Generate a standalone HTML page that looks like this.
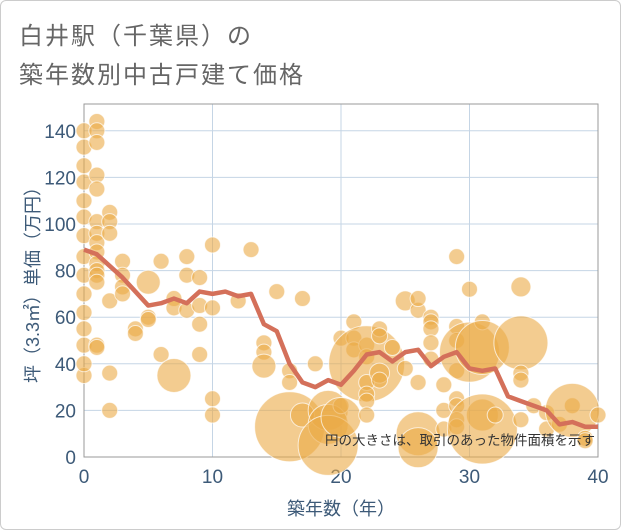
<!DOCTYPE html>
<html><head><meta charset="utf-8"><style>
body{margin:0;background:#fff;font-family:"Liberation Sans","Noto Sans CJK JP",sans-serif;}
#wrap{position:relative;width:619px;height:528px;border:1px solid #ccc;border-radius:6px;overflow:hidden;background:#fff}
.t{position:absolute;left:18px;font-size:24px;color:#666;letter-spacing:2px}
</style></head><body>
<div id="wrap">
<div class="t" style="top:15px">白井駅（千葉県）の</div>
<div class="t" style="top:54px">築年数別中古戸建て価格</div>
<svg id="svg" width="621" height="530" style="position:absolute;left:0;top:0"></svg>
</div>
<script>
const years=[0,1,2,3,4,5,6,7,8,9,10,11,12,13,14,15,16,17,18,19,20,21,22,23,24,25,26,27,28,29,30,31,32,33,34,35,36,37,38,39,40];
const avgPrice=[89,87,82,77,71,65,66,68,66,71,70,71,69,70,57,54,40,32,30,33,31,37,44,45,41,45,46,39,43,45,38,37,38,26,24,22,20,14,15,13,13];
const bubbleX=[0,0,0,0,0,0,0,0,0,0,0,0,0,0,0,1,1,1,1,1,1,1,1,1,1,1,1,1,1,1,2,2,2,2,2,2,3,3,3,3,4,4,5,5,5,6,6,7,7,7,8,8,8,9,9,9,9,10,10,10,10,12,13,14,14,14,15,16,16,16,17,17,18,19,19,19,20,20,20,21,21,21,22,22,22,22,22,22,22,23,23,23,23,24,25,25,26,26,26,26,26,27,27,27,27,27,28,28,28,29,29,29,29,29,29,29,29,30,30,31,31,31,31,32,34,34,34,34,34,35,36,36,37,38,38,39,39,40];
const bubbleY=[35,40,48,55,62,70,78,86,95,103,110,118,125,133,140,144,140,135,121,115,101,96,92,88,83,80,78,75,48,47,105,101,96,67,36,20,84,78,73,70,55,53,75,60,59,84,44,35,68,64,86,78,63,77,65,57,44,91,64,25,18,67,89,49,45,39,71,37,32,13,68,18,40,20,14,5,51,22,17,58,51,46,48,43,40,32,27,24,18,55,52,36,33,47,67,38,63,68,32,10,4,60,58,55,49,42,31,20,12,86,56,50,37,25,22,16,13,72,45,58,47,18,12,18,73,49,36,33,16,22,19,12,14,22,20,8,7,18];
const bubbleArea=[8,8,8,8,8,8,8,8,8,8,8,8,8,8,8,8,8,8,8,8,8,8,8,8,8,8,8,8,8,8,8,8,8,8,8,8,8,8,8,8,8,8,12,8,8,8,8,17,8,8,8,8,8,8,8,8,8,8,8,8,8,8,8,8,8,12,8,8,8,35,8,12,8,20,20,30,8,8,20,8,8,8,8,8,38,8,8,8,8,8,8,10,8,8,10,8,8,8,8,22,20,8,8,8,8,8,8,8,8,8,8,8,8,8,8,8,8,8,30,8,27,16,35,8,10,27,8,8,8,8,8,8,8,8,27,8,8,8];
const yTicks=[0,20,40,60,80,100,120,140];
const xTicks=[0,10,20,30,40];
const L=83,R=597,T=103,B=456,YMAX=151.5;
const sx=v=>L+(v/40)*(R-L), sy=v=>B-(v/YMAX)*(B-T);
const NS="http://www.w3.org/2000/svg", svg=document.getElementById('svg');
function mk(t,a){const e=document.createElementNS(NS,t);for(const k in a)e.setAttribute(k,a[k]);svg.appendChild(e);return e;}
yTicks.forEach(v=>{const g=mk('line',{x1:L,x2:R,y1:sy(v),y2:sy(v),stroke:'#c5d5e5','stroke-width':1});

const t=mk('text',{x:L-8,y:sy(v)+7,'text-anchor':'end','font-size':19,fill:'#3d5a78'});t.textContent=v;
});
xTicks.forEach(v=>{const g=mk('line',{x1:sx(v),x2:sx(v),y1:T,y2:B,stroke:'#c5d5e5','stroke-width':1});

const t=mk('text',{x:sx(v),y:B+26,'text-anchor':'middle','font-size':19,fill:'#3d5a78'});t.textContent=v;
});
const fr=mk('rect',{x:L,y:T,width:R-L,height:B-T,fill:'none',stroke:'#999','stroke-width':1});

bubbleX.forEach((x,i)=>{const c=mk('circle',{cx:sx(x),cy:sy(bubbleY[i]),r:bubbleArea[i],fill:'rgba(235,170,70,0.6)',stroke:'rgba(255,255,255,0.7)','stroke-width':1});
});
const p=mk('polyline',{points:years.map((y,i)=>sx(y)+','+sy(avgPrice[i])).join(' '),fill:'none',stroke:'#d4705a','stroke-width':4.5,'stroke-linejoin':'round'});

const n=mk('text',{x:594,y:444,'text-anchor':'end','font-size':13.5,fill:'#333'});n.textContent='円の大きさは、取引のあった物件面積を示す';

const xt=mk('text',{x:340,y:514,'text-anchor':'middle','font-size':18,fill:'#3d5a78'});xt.textContent='築年数（年）';

const yt=mk('text',{x:0,y:0,'text-anchor':'middle','font-size':18,fill:'#3d5a78',transform:'translate(38,'+((T+B)/2)+') rotate(-90)'});yt.textContent='坪（3.3㎡）単価（万円）';

</script>
</body></html>
